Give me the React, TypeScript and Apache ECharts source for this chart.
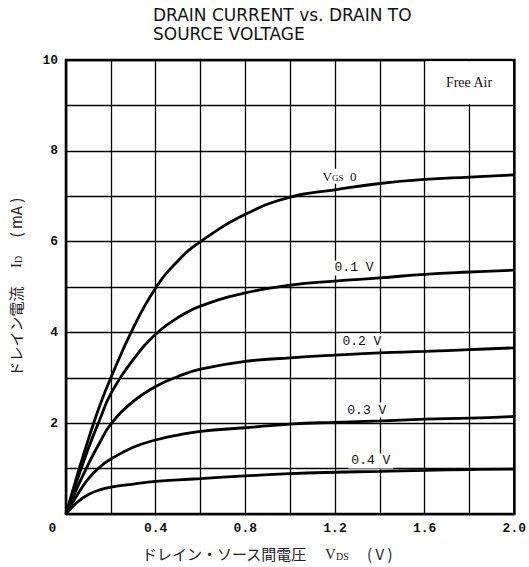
import React, { useEffect, useRef } from "react";
import * as echarts from "echarts";

// Drain-source voltage sample points (V)
const vds = [0, 0.05, 0.1, 0.15, 0.2, 0.3, 0.4, 0.5, 0.6, 0.8, 1.0, 1.2, 1.4, 1.6, 1.8, 2.0];
// Drain current (mA) for each gate-source voltage
const idVgs0 = [0, 0.85, 1.65, 2.38, 3.0, 4.1, 4.98, 5.58, 6.0, 6.6, 6.98, 7.14, 7.28, 7.37, 7.42, 7.47];
const idVgs01 = [0, 0.75, 1.45, 2.07, 2.65, 3.4, 3.96, 4.33, 4.58, 4.87, 5.04, 5.13, 5.2, 5.28, 5.33, 5.37];
const idVgs02 = [0, 0.58, 1.1, 1.57, 1.98, 2.48, 2.81, 3.03, 3.19, 3.36, 3.44, 3.5, 3.55, 3.58, 3.62, 3.66];
const idVgs03 = [0, 0.42, 0.78, 1.03, 1.21, 1.47, 1.63, 1.74, 1.82, 1.9, 1.98, 2.02, 2.05, 2.09, 2.11, 2.15];
const idVgs04 = [0, 0.26, 0.43, 0.53, 0.59, 0.66, 0.72, 0.75, 0.78, 0.84, 0.89, 0.92, 0.94, 0.96, 0.98, 0.99];

const seriesNames = ["VGS 0", "0.1 V", "0.2 V", "0.3 V", "0.4 V"];
const seriesData = [idVgs0, idVgs01, idVgs02, idVgs03, idVgs04];
const curveLabels = ["{v|V}{s|GS}{v|  0}", "0.1 V", "0.2 V", "0.3 V", "0.4 V"];
const labelVds = [1.22, 1.285, 1.32, 1.342, 1.36];
const labelId = [7.44, 5.42, 3.81, 2.29, 1.17];

const titleText = "DRAIN CURRENT vs. DRAIN TO\nSOURCE VOLTAGE";
const xName = "ドレイン・ソース間電圧　 {v|V}{s|DS}　 ( V )";
const yName = "ドレイン電流　 {v|I}{s|D}　 ( mA )";
const noteText = "Free Air";

export default function App() {
  const ref = useRef<HTMLDivElement>(null);
  useEffect(() => {
    if (!ref.current) return;
    const chart = echarts.init(ref.current, undefined, { renderer: "svg" });
    const monoFont = "Liberation Mono";
    const serifFont = "Liberation Serif";
    const series: any[] = seriesData.map((ys, i) => ({
      type: "line",
      name: seriesNames[i],
      data: vds.map((x, j) => [x, ys[j]]),
      symbol: "none",
      smooth: 0.45,
      lineStyle: { color: "#000", width: 2.8 },
      z: 3,
      markPoint: {
        symbol: "rect",
        symbolSize: 1,
        itemStyle: { color: "rgba(0,0,0,0)" },
        silent: true,
        data: [
          {
            coord: [labelVds[i], labelId[i]],
            label: {
              show: true,
              position: "inside",
              formatter: curveLabels[i],
              fontFamily: monoFont,
              fontSize: 13,
              color: "#111",
              backgroundColor: "#fff",
              padding: [1, 3, 1, 3],
              rich: {
                v: { fontFamily: serifFont, fontSize: 13, color: "#111" },
                s: { fontFamily: serifFont, fontSize: 9, color: "#111", verticalAlign: "bottom", padding: [4, 0, 0, 0] },
              },
            },
          },
        ],
      },
    }));
    series[0].markArea = {
      silent: true,
      itemStyle: { color: "#fff", opacity: 1 },
      label: {
        show: true,
        position: "inside",
        formatter: noteText,
        fontFamily: serifFont,
        fontSize: 14,
        color: "#111",
      },
      data: [[{ coord: [1.606, 9.025] }, { coord: [1.99, 9.97] }]],
    };
    chart.setOption({
      animation: false,
      backgroundColor: "#fff",
      title: {
        text: titleText,
        left: 148,
        top: 0,
        textStyle: {
          fontFamily: "DejaVu Sans",
          fontSize: 17,
          fontWeight: "normal",
          color: "#111",
          lineHeight: 19,
        },
      },
      grid: {
        left: 61,
        right: 13.5,
        top: 60,
        bottom: 53,
        show: true,
        borderColor: "#000",
        borderWidth: 2.6,
        backgroundColor: "#fff",
      },
      xAxis: {
        type: "value",
        min: 0,
        max: 2,
        interval: 0.2,
        name: xName,
        nameLocation: "middle",
        nameGap: 32,
        nameTextStyle: {
          fontFamily: "Noto Sans CJK JP",
          fontSize: 15,
          color: "#222",
          padding: [0, 46, 0, 0],
          rich: {
            v: { fontFamily: serifFont, fontSize: 15, color: "#222" },
            s: { fontFamily: serifFont, fontSize: 10, color: "#222", verticalAlign: "bottom", padding: [5, 0, 0, 0] },
          },
        },
        axisLine: { show: false },
        axisTick: { show: false },
        splitLine: { show: true, lineStyle: { color: "#000", width: 1.3 } },
        axisLabel: {
          margin: 8,
          fontFamily: monoFont,
          fontWeight: "bold",
          fontSize: 13,
          color: "#111",
          showMinLabel: true,
          showMaxLabel: true,
          formatter: (v: number) => {
            const k = Math.round(v * 10);
            if (k % 4 !== 0) return "";
            if (k === 0) return "{z|0}";
            return (k / 10).toFixed(1);
          },
          rich: {
            z: { fontFamily: monoFont, fontWeight: "bold", fontSize: 13, color: "#111", padding: [0, 27, 0, 0] },
          },
        },
      },
      yAxis: {
        type: "value",
        min: 0,
        max: 10,
        interval: 1,
        name: yName,
        nameLocation: "middle",
        nameRotate: 90,
        nameGap: 43,
        nameTextStyle: {
          fontFamily: "Noto Sans CJK JP",
          fontSize: 15,
          color: "#222",
          rich: {
            v: { fontFamily: serifFont, fontSize: 15, color: "#222" },
            s: { fontFamily: serifFont, fontSize: 10, color: "#222", verticalAlign: "bottom", padding: [5, 0, 0, 0] },
          },
        },
        axisLine: { show: false },
        axisTick: { show: false },
        splitLine: { show: true, lineStyle: { color: "#000", width: 1.3 } },
        axisLabel: {
          margin: 8,
          fontFamily: monoFont,
          fontWeight: "bold",
          fontSize: 13,
          color: "#111",
          formatter: (v: number) => {
            const k = Math.round(v);
            if (k === 0 || k % 2 !== 0) return "";
            return String(k);
          },
        },
      },
      series,
    });
    return () => chart.dispose();
  }, []);
  return (
    <div
      ref={ref}
      style={{ position: "fixed", left: 0, top: 0, width: 529, height: 567, background: "#fff" }}
    />
  );
}
